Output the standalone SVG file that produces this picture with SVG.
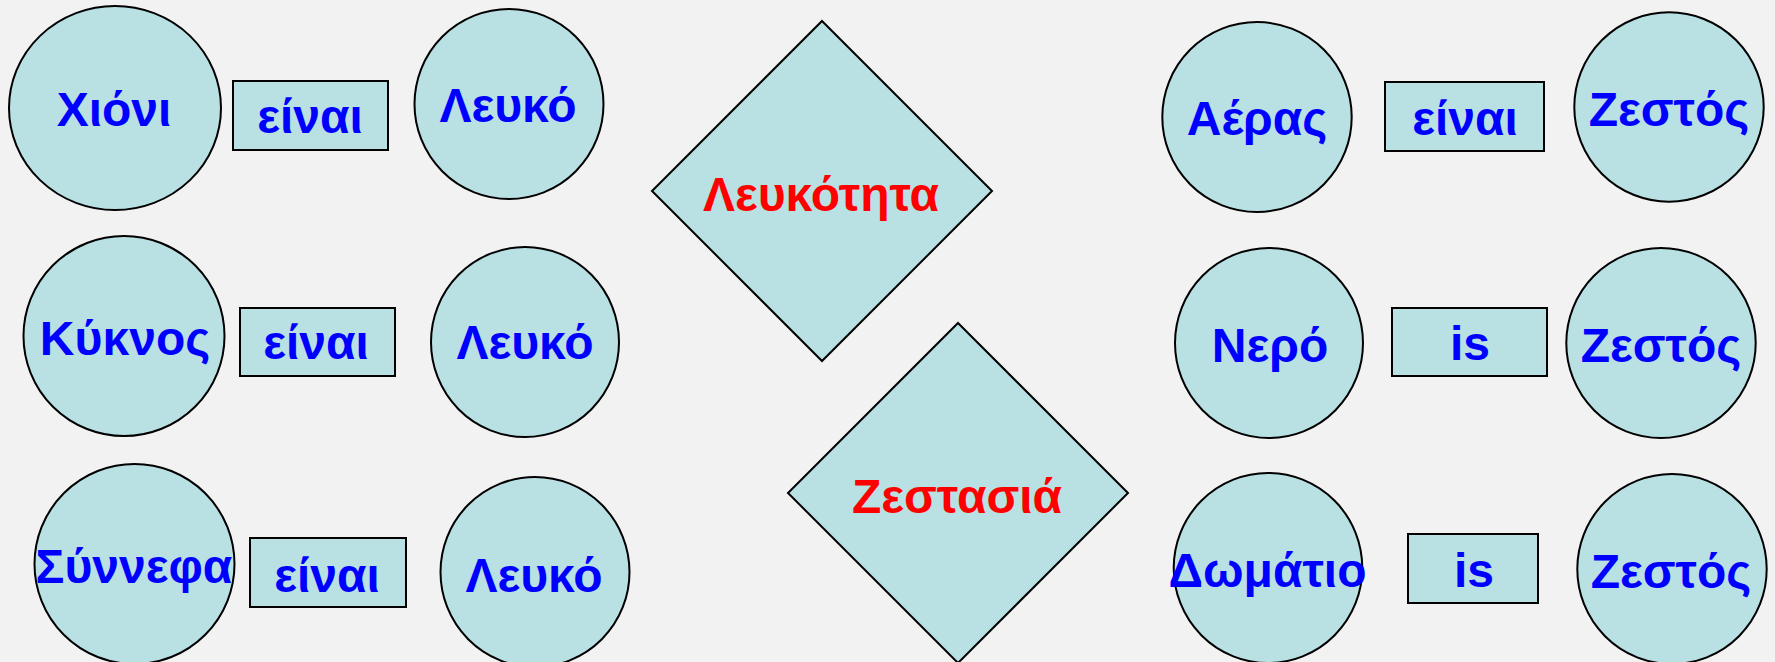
<svg xmlns="http://www.w3.org/2000/svg" width="1775" height="662" viewBox="0 0 1775 662">
<style>
.shape{fill:#b9e0e3;stroke:#000;stroke-width:2}
.t{font-family:"Liberation Sans",Arial,sans-serif;font-weight:bold;font-size:48px;text-anchor:middle}
.b{fill:#0000ff}
.r{fill:#ff0000}
</style>
<rect width="1775" height="662" fill="#f2f2f2"/>
<g id="connectors"></g>
<g id="n-xioni"><ellipse class="shape" cx="115" cy="108" rx="106" ry="102"/><text class="t b" x="114" y="126">Χιόνι</text></g>
<g id="n-einai1"><rect class="shape" x="233" y="81" width="155" height="69"/><text class="t b" x="310" y="133">είναι</text></g>
<g id="n-leuko1"><ellipse class="shape" cx="509" cy="104" rx="94.5" ry="95"/><text class="t b" x="508" y="122">Λευκό</text></g>
<g id="n-kyknos"><ellipse class="shape" cx="124" cy="336" rx="100.5" ry="100"/><text class="t b" x="125" y="355">Κύκνος</text></g>
<g id="n-einai2"><rect class="shape" x="240" y="308" width="155" height="68"/><text class="t b" x="316" y="359">είναι</text></g>
<g id="n-leuko2"><ellipse class="shape" cx="525" cy="342" rx="94" ry="95"/><text class="t b" x="525" y="359">Λευκό</text></g>
<g id="n-synnefa"><ellipse class="shape" cx="134.5" cy="564" rx="100" ry="100"/><text class="t b" x="134" y="583">Σύννεφα</text></g>
<g id="n-einai3"><rect class="shape" x="250" y="538" width="156" height="69"/><text class="t b" x="327" y="592">είναι</text></g>
<g id="n-leuko3"><ellipse class="shape" cx="535" cy="572" rx="94.5" ry="95"/><text class="t b" x="534" y="592">Λευκό</text></g>
<g id="n-leukotita"><polygon class="shape" points="822,21 992,191 822,361 652,191"/><text class="t r" x="821" y="211">Λευκότητα</text></g>
<g id="n-zestasia"><polygon class="shape" points="958,323 1128,493 958,663 788,493"/><text class="t r" x="957" y="513">Ζεστασιά</text></g>
<g id="n-aeras"><ellipse class="shape" cx="1257" cy="117" rx="94.7" ry="95"/><text class="t b" x="1257" y="135">Αέρας</text></g>
<g id="n-einai4"><rect class="shape" x="1385" y="82" width="159" height="69"/><text class="t b" x="1465" y="135">είναι</text></g>
<g id="n-zestos1"><ellipse class="shape" cx="1669" cy="107" rx="94.7" ry="94.7"/><text class="t b" x="1669" y="126">Ζεστός</text></g>
<g id="n-nero"><ellipse class="shape" cx="1269" cy="343" rx="94" ry="95"/><text class="t b" x="1270" y="362">Νερό</text></g>
<g id="n-is1"><rect class="shape" x="1392" y="308" width="155" height="68"/><text class="t b" x="1470" y="360">is</text></g>
<g id="n-zestos2"><ellipse class="shape" cx="1661" cy="343" rx="94.7" ry="95"/><text class="t b" x="1661" y="362">Ζεστός</text></g>
<g id="n-domatio"><ellipse class="shape" cx="1268" cy="568" rx="94.3" ry="95"/><text class="t b" x="1267.5" y="587">Δωμάτιο</text></g>
<g id="n-is2"><rect class="shape" x="1408" y="534" width="130" height="69"/><text class="t b" x="1474" y="587">is</text></g>
<g id="n-zestos3"><ellipse class="shape" cx="1672" cy="569" rx="94.7" ry="95"/><text class="t b" x="1671" y="588">Ζεστός</text></g>
</svg>
